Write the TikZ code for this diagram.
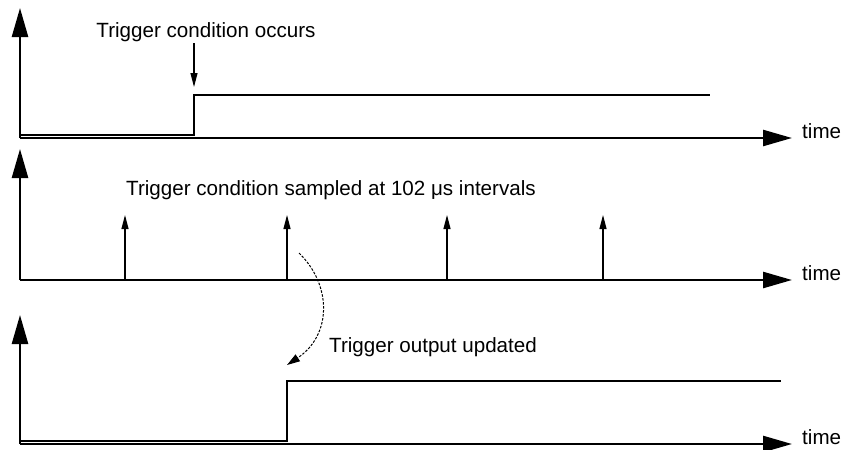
\documentclass[tikz,border=0pt]{standalone}
\usepackage{fontspec}
\setmainfont{Liberation Sans}
\usetikzlibrary{arrows.meta}

\tikzset{
  axis/.style={line width=2.5pt, -{Triangle[length=29pt,width=16pt]}},
  signal/.style={line width=1.1pt},
  tick/.style={line width=1.1pt, -{Triangle[length=14pt,width=7pt]}},
  curvearrow/.style={line width=1pt, dash pattern=on 2.5pt off 1.5pt, -{Triangle[length=13pt,width=8pt]}},
  lbl/.style={font=\fontsize{20.6}{24}\selectfont, inner sep=0pt},
}

\begin{document}
\begin{tikzpicture}[x=1pt,y=-1pt]
      \useasboundingbox (0,0) rectangle (844,450);

        % Les trois axes
        \foreach \n/\base/\top in {1/138/8, 2/280/149, 3/444/315} {%
          \coordinate (o\n) at (20,\base);
          \coordinate (y\n) at (20,\top);
          \coordinate (x\n) at (792,\base);
          \draw[axis] (o\n) -- (y\n);
          \draw[axis] (o\n) -- (x\n);
          \node[lbl, anchor=west] (time\n) at (802,\base-7) {time};
        }

      % Condition
      \coordinate (a0) at (21,135);
      \coordinate (a1) at (194,135);
      \coordinate (a2) at (194,95);
      \coordinate (a3) at (710,95);
      \draw[signal] (a0) -- (a1) -- (a2) -- (a3);

      \node[lbl, anchor=base] (occurs) at (206,37) {Trigger condition occurs};
      \coordinate (trig) at (194,87);
      \draw[tick] (occurs.south -| trig) ++(0,2) -- (trig);

      % Echantillons
      \node[lbl, anchor=base west] (sampled) at (126,195) {Trigger condition sampled at 102 μs intervals};
        \foreach \i/\x in {1/125, 2/287, 3/447, 4/603} {%
          \coordinate (s\i) at (\x,280);
          \coordinate (p\i) at (\x,215);
          \draw[tick] (s\i) -- (p\i);
        }

      % Sortie
      \coordinate (b0) at (21,441);
      \coordinate (b1) at (287,441);
      \coordinate (b2) at (287,381);
      \coordinate (b3) at (781,381);
      \draw[signal] (b0) -- (b1) -- (b2) -- (b3);

      \node[lbl, anchor=base west] (updated) at (329,352) {Trigger output updated};
      \coordinate (c0) at (299,253);
      \coordinate (c1) at (287,365);
      \draw[curvearrow] (c0) .. controls (332,285) and (332,335) .. (c1);
\end{tikzpicture}
\end{document}
